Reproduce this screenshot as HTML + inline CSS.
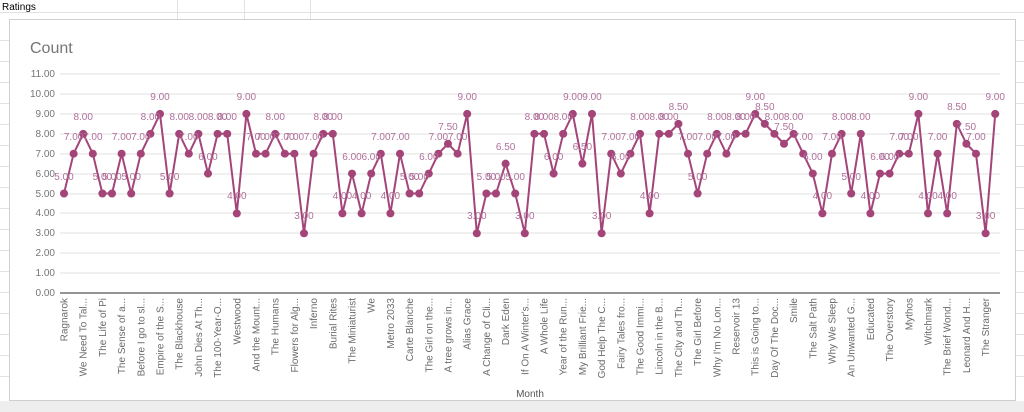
<!DOCTYPE html>
<html><head><meta charset="utf-8"><style>
html,body{margin:0;padding:0;background:#fff;width:1024px;height:412px;overflow:hidden;font-family:"Liberation Sans",sans-serif}
</style></head><body>
<svg width="1024" height="412" viewBox="0 0 1024 412" xmlns="http://www.w3.org/2000/svg" font-family="Liberation Sans, sans-serif">
<rect width="1024" height="412" fill="#fff"/>
<g stroke="#e2e2e2" stroke-width="1">
<line x1="0" y1="12.5" x2="1024" y2="12.5"/>
<line x1="177.5" y1="0" x2="177.5" y2="20"/><line x1="244.5" y1="0" x2="244.5" y2="20"/><line x1="310.5" y1="0" x2="310.5" y2="20"/>
<line x1="1016" y1="40.5" x2="1024" y2="40.5"/><line x1="1016" y1="61.5" x2="1024" y2="61.5"/><line x1="1016" y1="82.5" x2="1024" y2="82.5"/><line x1="1016" y1="103.5" x2="1024" y2="103.5"/><line x1="1016" y1="124.5" x2="1024" y2="124.5"/><line x1="1016" y1="145.5" x2="1024" y2="145.5"/><line x1="1016" y1="166.5" x2="1024" y2="166.5"/><line x1="1016" y1="187.5" x2="1024" y2="187.5"/><line x1="1016" y1="208.5" x2="1024" y2="208.5"/><line x1="1016" y1="229.5" x2="1024" y2="229.5"/><line x1="1016" y1="250.5" x2="1024" y2="250.5"/><line x1="1016" y1="271.5" x2="1024" y2="271.5"/><line x1="1016" y1="292.5" x2="1024" y2="292.5"/><line x1="1016" y1="313.5" x2="1024" y2="313.5"/><line x1="1016" y1="334.5" x2="1024" y2="334.5"/><line x1="1016" y1="355.5" x2="1024" y2="355.5"/><line x1="1016" y1="376.5" x2="1024" y2="376.5"/>
<line x1="0" y1="40.5" x2="9" y2="40.5"/><line x1="0" y1="61.5" x2="9" y2="61.5"/><line x1="0" y1="82.5" x2="9" y2="82.5"/><line x1="0" y1="103.5" x2="9" y2="103.5"/><line x1="0" y1="124.5" x2="9" y2="124.5"/><line x1="0" y1="145.5" x2="9" y2="145.5"/><line x1="0" y1="166.5" x2="9" y2="166.5"/><line x1="0" y1="187.5" x2="9" y2="187.5"/><line x1="0" y1="208.5" x2="9" y2="208.5"/><line x1="0" y1="229.5" x2="9" y2="229.5"/><line x1="0" y1="250.5" x2="9" y2="250.5"/><line x1="0" y1="271.5" x2="9" y2="271.5"/><line x1="0" y1="292.5" x2="9" y2="292.5"/><line x1="0" y1="313.5" x2="9" y2="313.5"/><line x1="0" y1="334.5" x2="9" y2="334.5"/><line x1="0" y1="355.5" x2="9" y2="355.5"/><line x1="0" y1="376.5" x2="9" y2="376.5"/>
</g>
<rect x="0" y="401" width="1024" height="11" fill="#eeeeee"/>
<text x="2" y="10" font-size="10" fill="#000">Ratings</text>
<rect x="9.5" y="19.5" width="1006" height="381" fill="#fff" stroke="#cfcfcf"/>
<text x="30" y="53" font-size="16" fill="#757575">Count</text>
<g stroke="#e0e0e0" stroke-width="1">
<line x1="60" y1="74" x2="1000" y2="74"/><line x1="60" y1="94" x2="1000" y2="94"/><line x1="60" y1="114" x2="1000" y2="114"/><line x1="60" y1="134" x2="1000" y2="134"/><line x1="60" y1="154" x2="1000" y2="154"/><line x1="60" y1="174" x2="1000" y2="174"/><line x1="60" y1="194" x2="1000" y2="194"/><line x1="60" y1="213" x2="1000" y2="213"/><line x1="60" y1="233" x2="1000" y2="233"/><line x1="60" y1="253" x2="1000" y2="253"/><line x1="60" y1="273" x2="1000" y2="273"/>
</g>
<line x1="60" y1="293" x2="1000" y2="293" stroke="#555" stroke-width="1.2"/>
<g font-size="10" fill="#757575" text-anchor="end">
<text x="55" y="77">11.00</text><text x="55" y="97">10.00</text><text x="55" y="117">9.00</text><text x="55" y="137">8.00</text><text x="55" y="157">7.00</text><text x="55" y="177">6.00</text><text x="55" y="197">5.00</text><text x="55" y="216">4.00</text><text x="55" y="236">3.00</text><text x="55" y="256">2.00</text><text x="55" y="276">1.00</text><text x="55" y="296">0.00</text>
</g>
<g transform="translate(64,293) scale(9.6,-19.9)">
<polyline fill="none" stroke="#a4457a" stroke-width="2" vector-effect="non-scaling-stroke" stroke-linejoin="round" points="0,5 1,7 2,8 3,7 4,5 5,5 6,7 7,5 8,7 9,8 10,9 11,5 12,8 13,7 14,8 15,6 16,8 17,8 18,4 19,9 20,7 21,7 22,8 23,7 24,7 25,3 26,7 27,8 28,8 29,4 30,6 31,4 32,6 33,7 34,4 35,7 36,5 37,5 38,6 39,7 40,7.5 41,7 42,9 43,3 44,5 45,5 46,6.5 47,5 48,3 49,8 50,8 51,6 52,8 53,9 54,6.5 55,9 56,3 57,7 58,6 59,7 60,8 61,4 62,8 63,8 64,8.5 65,7 66,5 67,7 68,8 69,7 70,8 71,8 72,9 73,8.5 74,8 75,7.5 76,8 77,7 78,6 79,4 80,7 81,8 82,5 83,8 84,4 85,6 86,6 87,7 88,7 89,9 90,4 91,7 92,4 93,8.5 94,7.5 95,7 96,3 97,9"/>
<g fill="#a4457a">
<ellipse cx="0" cy="5" rx=".42" ry=".2"/><ellipse cx="1" cy="7" rx=".42" ry=".2"/><ellipse cx="2" cy="8" rx=".42" ry=".2"/><ellipse cx="3" cy="7" rx=".42" ry=".2"/><ellipse cx="4" cy="5" rx=".42" ry=".2"/><ellipse cx="5" cy="5" rx=".42" ry=".2"/><ellipse cx="6" cy="7" rx=".42" ry=".2"/><ellipse cx="7" cy="5" rx=".42" ry=".2"/><ellipse cx="8" cy="7" rx=".42" ry=".2"/><ellipse cx="9" cy="8" rx=".42" ry=".2"/><ellipse cx="10" cy="9" rx=".42" ry=".2"/><ellipse cx="11" cy="5" rx=".42" ry=".2"/><ellipse cx="12" cy="8" rx=".42" ry=".2"/><ellipse cx="13" cy="7" rx=".42" ry=".2"/><ellipse cx="14" cy="8" rx=".42" ry=".2"/><ellipse cx="15" cy="6" rx=".42" ry=".2"/><ellipse cx="16" cy="8" rx=".42" ry=".2"/><ellipse cx="17" cy="8" rx=".42" ry=".2"/><ellipse cx="18" cy="4" rx=".42" ry=".2"/><ellipse cx="19" cy="9" rx=".42" ry=".2"/><ellipse cx="20" cy="7" rx=".42" ry=".2"/><ellipse cx="21" cy="7" rx=".42" ry=".2"/><ellipse cx="22" cy="8" rx=".42" ry=".2"/><ellipse cx="23" cy="7" rx=".42" ry=".2"/><ellipse cx="24" cy="7" rx=".42" ry=".2"/><ellipse cx="25" cy="3" rx=".42" ry=".2"/><ellipse cx="26" cy="7" rx=".42" ry=".2"/><ellipse cx="27" cy="8" rx=".42" ry=".2"/><ellipse cx="28" cy="8" rx=".42" ry=".2"/><ellipse cx="29" cy="4" rx=".42" ry=".2"/><ellipse cx="30" cy="6" rx=".42" ry=".2"/><ellipse cx="31" cy="4" rx=".42" ry=".2"/><ellipse cx="32" cy="6" rx=".42" ry=".2"/><ellipse cx="33" cy="7" rx=".42" ry=".2"/><ellipse cx="34" cy="4" rx=".42" ry=".2"/><ellipse cx="35" cy="7" rx=".42" ry=".2"/><ellipse cx="36" cy="5" rx=".42" ry=".2"/><ellipse cx="37" cy="5" rx=".42" ry=".2"/><ellipse cx="38" cy="6" rx=".42" ry=".2"/><ellipse cx="39" cy="7" rx=".42" ry=".2"/><ellipse cx="40" cy="7.5" rx=".42" ry=".2"/><ellipse cx="41" cy="7" rx=".42" ry=".2"/><ellipse cx="42" cy="9" rx=".42" ry=".2"/><ellipse cx="43" cy="3" rx=".42" ry=".2"/><ellipse cx="44" cy="5" rx=".42" ry=".2"/><ellipse cx="45" cy="5" rx=".42" ry=".2"/><ellipse cx="46" cy="6.5" rx=".42" ry=".2"/><ellipse cx="47" cy="5" rx=".42" ry=".2"/><ellipse cx="48" cy="3" rx=".42" ry=".2"/><ellipse cx="49" cy="8" rx=".42" ry=".2"/><ellipse cx="50" cy="8" rx=".42" ry=".2"/><ellipse cx="51" cy="6" rx=".42" ry=".2"/><ellipse cx="52" cy="8" rx=".42" ry=".2"/><ellipse cx="53" cy="9" rx=".42" ry=".2"/><ellipse cx="54" cy="6.5" rx=".42" ry=".2"/><ellipse cx="55" cy="9" rx=".42" ry=".2"/><ellipse cx="56" cy="3" rx=".42" ry=".2"/><ellipse cx="57" cy="7" rx=".42" ry=".2"/><ellipse cx="58" cy="6" rx=".42" ry=".2"/><ellipse cx="59" cy="7" rx=".42" ry=".2"/><ellipse cx="60" cy="8" rx=".42" ry=".2"/><ellipse cx="61" cy="4" rx=".42" ry=".2"/><ellipse cx="62" cy="8" rx=".42" ry=".2"/><ellipse cx="63" cy="8" rx=".42" ry=".2"/><ellipse cx="64" cy="8.5" rx=".42" ry=".2"/><ellipse cx="65" cy="7" rx=".42" ry=".2"/><ellipse cx="66" cy="5" rx=".42" ry=".2"/><ellipse cx="67" cy="7" rx=".42" ry=".2"/><ellipse cx="68" cy="8" rx=".42" ry=".2"/><ellipse cx="69" cy="7" rx=".42" ry=".2"/><ellipse cx="70" cy="8" rx=".42" ry=".2"/><ellipse cx="71" cy="8" rx=".42" ry=".2"/><ellipse cx="72" cy="9" rx=".42" ry=".2"/><ellipse cx="73" cy="8.5" rx=".42" ry=".2"/><ellipse cx="74" cy="8" rx=".42" ry=".2"/><ellipse cx="75" cy="7.5" rx=".42" ry=".2"/><ellipse cx="76" cy="8" rx=".42" ry=".2"/><ellipse cx="77" cy="7" rx=".42" ry=".2"/><ellipse cx="78" cy="6" rx=".42" ry=".2"/><ellipse cx="79" cy="4" rx=".42" ry=".2"/><ellipse cx="80" cy="7" rx=".42" ry=".2"/><ellipse cx="81" cy="8" rx=".42" ry=".2"/><ellipse cx="82" cy="5" rx=".42" ry=".2"/><ellipse cx="83" cy="8" rx=".42" ry=".2"/><ellipse cx="84" cy="4" rx=".42" ry=".2"/><ellipse cx="85" cy="6" rx=".42" ry=".2"/><ellipse cx="86" cy="6" rx=".42" ry=".2"/><ellipse cx="87" cy="7" rx=".42" ry=".2"/><ellipse cx="88" cy="7" rx=".42" ry=".2"/><ellipse cx="89" cy="9" rx=".42" ry=".2"/><ellipse cx="90" cy="4" rx=".42" ry=".2"/><ellipse cx="91" cy="7" rx=".42" ry=".2"/><ellipse cx="92" cy="4" rx=".42" ry=".2"/><ellipse cx="93" cy="8.5" rx=".42" ry=".2"/><ellipse cx="94" cy="7.5" rx=".42" ry=".2"/><ellipse cx="95" cy="7" rx=".42" ry=".2"/><ellipse cx="96" cy="3" rx=".42" ry=".2"/><ellipse cx="97" cy="9" rx=".42" ry=".2"/>
</g>
</g>
<g font-size="10" fill="#b0709a" text-anchor="middle">
<text x="64" y="180">5.00</text><text x="73.6" y="140">7.00</text><text x="83.2" y="120">8.00</text><text x="92.8" y="140">7.00</text><text x="102.4" y="180">5.00</text><text x="112" y="180">5.00</text><text x="121.6" y="140">7.00</text><text x="131.2" y="180">5.00</text><text x="140.8" y="140">7.00</text><text x="150.4" y="120">8.00</text>
<text x="160" y="100">9.00</text><text x="169.6" y="180">5.00</text><text x="179.2" y="120">8.00</text><text x="188.8" y="140">7.00</text><text x="198.4" y="120">8.00</text><text x="208" y="160">6.00</text><text x="217.6" y="120">8.00</text><text x="227.2" y="120">8.00</text><text x="236.8" y="199">4.00</text><text x="246.4" y="100">9.00</text>
<text x="256" y="140">7.00</text><text x="265.6" y="140">7.00</text><text x="275.2" y="120">8.00</text><text x="284.8" y="140">7.00</text><text x="294.4" y="140">7.00</text><text x="304" y="219">3.00</text><text x="313.6" y="140">7.00</text><text x="323.2" y="120">8.00</text><text x="332.8" y="120">8.00</text><text x="342.4" y="199">4.00</text>
<text x="352" y="160">6.00</text><text x="361.6" y="199">4.00</text><text x="371.2" y="160">6.00</text><text x="380.8" y="140">7.00</text><text x="390.4" y="199">4.00</text><text x="400" y="140">7.00</text><text x="409.6" y="180">5.00</text><text x="419.2" y="180">5.00</text><text x="428.8" y="160">6.00</text><text x="438.4" y="140">7.00</text>
<text x="448" y="130">7.50</text><text x="457.6" y="140">7.00</text><text x="467.2" y="100">9.00</text><text x="476.8" y="219">3.00</text><text x="486.4" y="180">5.00</text><text x="496" y="180">5.00</text><text x="505.6" y="150">6.50</text><text x="515.2" y="180">5.00</text><text x="524.8" y="219">3.00</text><text x="534.4" y="120">8.00</text>
<text x="544" y="120">8.00</text><text x="553.6" y="160">6.00</text><text x="563.2" y="120">8.00</text><text x="572.8" y="100">9.00</text><text x="582.4" y="150">6.50</text><text x="592" y="100">9.00</text><text x="601.6" y="219">3.00</text><text x="611.2" y="140">7.00</text><text x="620.8" y="160">6.00</text><text x="630.4" y="140">7.00</text>
<text x="640" y="120">8.00</text><text x="649.6" y="199">4.00</text><text x="659.2" y="120">8.00</text><text x="668.8" y="120">8.00</text><text x="678.4" y="110">8.50</text><text x="688" y="140">7.00</text><text x="697.6" y="180">5.00</text><text x="707.2" y="140">7.00</text><text x="716.8" y="120">8.00</text><text x="726.4" y="140">7.00</text>
<text x="736" y="120">8.00</text><text x="745.6" y="120">8.00</text><text x="755.2" y="100">9.00</text><text x="764.8" y="110">8.50</text><text x="774.4" y="120">8.00</text><text x="784" y="130">7.50</text><text x="793.6" y="120">8.00</text><text x="803.2" y="140">7.00</text><text x="812.8" y="160">6.00</text><text x="822.4" y="199">4.00</text>
<text x="832" y="140">7.00</text><text x="841.6" y="120">8.00</text><text x="851.2" y="180">5.00</text><text x="860.8" y="120">8.00</text><text x="870.4" y="199">4.00</text><text x="880" y="160">6.00</text><text x="889.6" y="160">6.00</text><text x="899.2" y="140">7.00</text><text x="908.8" y="140">7.00</text><text x="918.4" y="100">9.00</text>
<text x="928" y="199">4.00</text><text x="937.6" y="140">7.00</text><text x="947.2" y="199">4.00</text><text x="956.8" y="110">8.50</text><text x="966.4" y="130">7.50</text><text x="976" y="140">7.00</text><text x="985.6" y="219">3.00</text><text x="995.2" y="100">9.00</text>
</g>
<g font-size="10" fill="#6b6b6b" text-anchor="end">
<text transform="translate(67.5,298) rotate(-90)">Ragnarok</text>
<text transform="translate(86.7,298) rotate(-90)">We Need To Tal...</text>
<text transform="translate(105.9,298) rotate(-90)">The Life of Pi</text>
<text transform="translate(125.1,298) rotate(-90)">The Sense of a...</text>
<text transform="translate(144.3,298) rotate(-90)">Before I go to sl...</text>
<text transform="translate(163.5,298) rotate(-90)">Empire of the S...</text>
<text transform="translate(182.7,298) rotate(-90)">The Blackhouse</text>
<text transform="translate(201.9,298) rotate(-90)">John Dies At Th...</text>
<text transform="translate(221.1,298) rotate(-90)">The 100-Year-O...</text>
<text transform="translate(240.3,298) rotate(-90)">Westwood</text>
<text transform="translate(259.5,298) rotate(-90)">And the Mount...</text>
<text transform="translate(278.7,298) rotate(-90)">The Humans</text>
<text transform="translate(297.9,298) rotate(-90)">Flowers for Alg...</text>
<text transform="translate(317.1,298) rotate(-90)">Inferno</text>
<text transform="translate(336.3,298) rotate(-90)">Burial Rites</text>
<text transform="translate(355.5,298) rotate(-90)">The Miniaturist</text>
<text transform="translate(374.7,298) rotate(-90)">We</text>
<text transform="translate(393.9,298) rotate(-90)">Metro 2033</text>
<text transform="translate(413.1,298) rotate(-90)">Carte Blanche</text>
<text transform="translate(432.3,298) rotate(-90)">The Girl on the...</text>
<text transform="translate(451.5,298) rotate(-90)">A tree grows in...</text>
<text transform="translate(470.7,298) rotate(-90)">Alias Grace</text>
<text transform="translate(489.9,298) rotate(-90)">A Change of Cli...</text>
<text transform="translate(509.1,298) rotate(-90)">Dark Eden</text>
<text transform="translate(528.3,298) rotate(-90)">If On A Winter's...</text>
<text transform="translate(547.5,298) rotate(-90)">A Whole Life</text>
<text transform="translate(566.7,298) rotate(-90)">Year of the Run...</text>
<text transform="translate(585.9,298) rotate(-90)">My Brilliant Frie...</text>
<text transform="translate(605.1,298) rotate(-90)">God Help The C...</text>
<text transform="translate(624.3,298) rotate(-90)">Fairy Tales fro...</text>
<text transform="translate(643.5,298) rotate(-90)">The Good Immi...</text>
<text transform="translate(662.7,298) rotate(-90)">Lincoln in the B...</text>
<text transform="translate(681.9,298) rotate(-90)">The City and Th...</text>
<text transform="translate(701.1,298) rotate(-90)">The Girl Before</text>
<text transform="translate(720.3,298) rotate(-90)">Why I'm No Lon...</text>
<text transform="translate(739.5,298) rotate(-90)">Reservoir 13</text>
<text transform="translate(758.7,298) rotate(-90)">This is Going to...</text>
<text transform="translate(777.9,298) rotate(-90)">Day Of The Doc...</text>
<text transform="translate(797.1,298) rotate(-90)">Smile</text>
<text transform="translate(816.3,298) rotate(-90)">The Salt Path</text>
<text transform="translate(835.5,298) rotate(-90)">Why We Sleep</text>
<text transform="translate(854.7,298) rotate(-90)">An Unwanted G...</text>
<text transform="translate(873.9,298) rotate(-90)">Educated</text>
<text transform="translate(893.1,298) rotate(-90)">The Overstory</text>
<text transform="translate(912.3,298) rotate(-90)">Mythos</text>
<text transform="translate(931.5,298) rotate(-90)">Witchmark</text>
<text transform="translate(950.7,298) rotate(-90)">The Brief Wond...</text>
<text transform="translate(969.9,298) rotate(-90)">Leonard And H...</text>
<text transform="translate(989.1,298) rotate(-90)">The Stranger</text>
</g>
<text x="530" y="397" font-size="10" fill="#555" text-anchor="middle">Month</text>
</svg>
</body></html>
